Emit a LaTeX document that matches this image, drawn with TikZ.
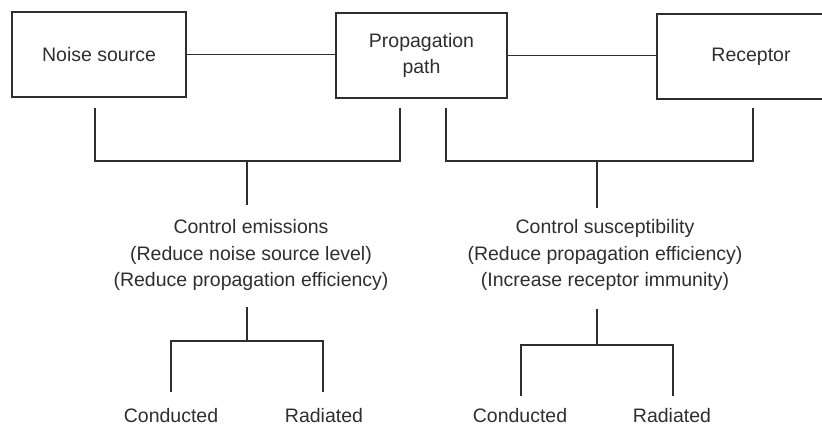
\documentclass[tikz,border=0pt]{standalone}
\usepackage{fontspec}
\setmainfont{Liberation Sans}
\definecolor{ink}{gray}{0.18}
\begin{document}
\begin{tikzpicture}[x=1pt,y=-1pt,
  lbl/.style={text=ink,font=\fontsize{19.5}{26.5}\selectfont,align=center,inner sep=0pt},
  box/.style={lbl,draw=ink,line width=1.2pt,minimum width=#1,minimum height=85pt},
  wire/.style={draw=ink,line width=1.2pt}]
\clip (0,0) rectangle (822,426);
% boxes
\node[box=174pt] (ns) at (99,54.5) {Noise source};
\node[box=171pt] (pp) at (421.5,55.5) {Propagation\\path};
\node[box=188pt] (rc) at (751,56.5) {Receptor};
\draw[wire] (ns.east) -- (ns.east -| pp.west);
\draw[wire] (pp.east) -- (pp.east -| rc.west);
% middle texts
\node[lbl] (em) at (251,255) {Control emissions\\(Reduce noise source level)\\(Reduce propagation efficiency)};
\node[lbl] (su) at (605,255) {Control susceptibility\\(Reduce propagation efficiency)\\(Increase receptor immunity)};
% bottom labels
\node[lbl,anchor=base] (lc) at (171,422) {Conducted};
\node[lbl,anchor=base] (lr) at (324,422) {Radiated};
\node[lbl,anchor=base] (rcd) at (520,422) {Conducted};
\node[lbl,anchor=base] (rrd) at (672,422) {Radiated};
% left upper bracket
\coordinate (a1) at (95,108);
\coordinate (a2) at (95,161);
\coordinate (a3) at (400,161);
\coordinate (a4) at (400,108);
\coordinate (am) at (247,161);
\coordinate (ab) at (247,205);
\draw[wire] (a1) -- (a2) -- (a3) -- (a4);
\draw[wire] (am) -- (ab);
% right upper bracket
\coordinate (b1) at (446,108);
\coordinate (b2) at (446,161);
\coordinate (b3) at (753,161);
\coordinate (b4) at (753,108);
\coordinate (bm) at (597,161);
\coordinate (bb) at (597,208);
\draw[wire] (b1) -- (b2) -- (b3) -- (b4);
\draw[wire] (bm) -- (bb);
% left lower fork
\coordinate (c0) at (247,307);
\coordinate (cm) at (247,341);
\coordinate (c1) at (171,341);
\coordinate (c2) at (323,341);
\coordinate (c1e) at (171,392);
\coordinate (c2e) at (323,392);
\draw[wire] (c0) -- (cm);
\draw[wire] (c1e) -- (c1) -- (c2) -- (c2e);
% right lower fork
\coordinate (d0) at (597,309);
\coordinate (dm) at (597,345);
\coordinate (d1) at (521,345);
\coordinate (d2) at (673,345);
\coordinate (d1e) at (521,396);
\coordinate (d2e) at (673,396);
\draw[wire] (d0) -- (dm);
\draw[wire] (d1e) -- (d1) -- (d2) -- (d2e);
\end{tikzpicture}
\end{document}
